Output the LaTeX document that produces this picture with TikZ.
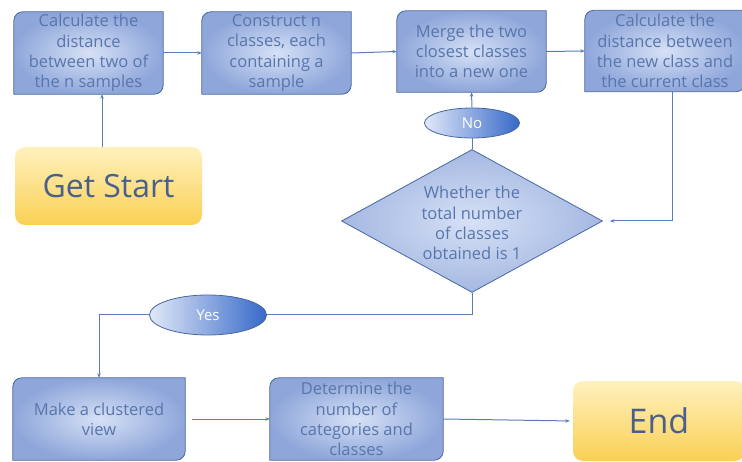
\documentclass[tikz,border=0pt]{standalone}
\usepackage{fontspec}
\setmainfont{Open Sans}
\usetikzlibrary{shapes.geometric,arrows.meta,backgrounds,calc}
\definecolor{txt}{RGB}{88,118,172}
\definecolor{edge}{RGB}{72,102,160}
\definecolor{bl1}{RGB}{214,225,246}
\definecolor{bl2}{RGB}{142,166,218}
\definecolor{ln}{RGB}{90,125,180}
\definecolor{ya}{RGB}{255,241,190}
\definecolor{yb}{RGB}{250,208,84}
\definecolor{gtxt}{RGB}{75,95,140}
\definecolor{ovl}{RGB}{225,232,248}
\definecolor{ovr}{RGB}{55,105,200}
\newcommand\dbox[2][9]{%
  \shadedraw[inner color=bl1, outer color=bl2, draw=edge, line width=0.8pt]
  (#2.south west) -- ([yshift=-#1pt]#2.north west)
  arc[start angle=180,end angle=90,radius=#1pt] -- (#2.north east)
  -- ([yshift=#1pt]#2.south east)
  arc[start angle=0,end angle=-90,radius=#1pt] -- cycle;}
\tikzset{
  x=1pt,y=1pt,
  boxtext/.style={text=txt, align=center, inner sep=0pt, font=\fontsize{16.5}{20.3}\selectfont},
  term/.style={text=gtxt, rounded corners=10pt, top color=ya, bottom color=yb, inner sep=0pt},
  oval/.style={ellipse, draw=edge, line width=0.8pt, left color=ovl, right color=ovr, text=white, inner sep=0pt, font=\fontsize{15}{16}\selectfont},
  decide/.style={diamond, draw=edge, line width=0.8pt, inner color=bl1, outer color=bl2!80!white, inner sep=0pt},
  arr/.style={draw=ln, line width=1pt, -{Stealth[length=4.5pt,width=3.5pt]}},
  con/.style={draw=ln, line width=1pt},
}
\begin{document}
\begin{tikzpicture}
\useasboundingbox (0,0) rectangle (742,461);
\node[boxtext, minimum width=149pt, minimum height=82pt] (b1) at (88.5,408) {Calculate the\\distance\\between two of\\the n samples};
\node[boxtext, minimum width=149pt, minimum height=82pt] (b2) at (276.5,408) {Construct n\\classes, each\\containing a\\sample};
\node[boxtext, minimum width=149pt, minimum height=81pt] (b3) at (471.5,409.5) {Merge the two\\closest classes\\into a new one};
\node[boxtext, minimum width=160pt, minimum height=81pt] (b4) at (665,410) {Calculate the\\distance between\\the new class and\\the current class};
\node[boxtext, minimum width=172pt, minimum height=82pt] (b5) at (99,42) {Make a clustered\\view};
\node[boxtext, minimum width=173pt, minimum height=82pt] (b6) at (356.5,42) {Determine the\\number of\\categories and\\classes};
\node[term, minimum width=187pt, minimum height=78pt, font=\fontsize{32}{36}\selectfont] (start) at (108.5,275) {Get Start};
\node[term, minimum width=172pt, minimum height=80pt, font=\fontsize{34}{38}\selectfont] (end) at (659,40) {End};
\node[decide, minimum width=261pt, minimum height=143pt, aspect=1.83] (dec) at (472,240) {};
\node[text=txt, align=center, font=\fontsize{16.5}{20.3}\selectfont] (dectext) at (472,238) {Whether the\\total number\\of classes\\obtained is 1};
\node[oval, minimum width=95pt, minimum height=30pt] (no) at (472,338) {No};
\node[oval, minimum width=117pt, minimum height=40pt] (yes) at (208,146) {Yes};
\begin{scope}[on background layer]
  \dbox{b1}\dbox{b2}\dbox{b3}\dbox{b4}\dbox{b5}\dbox{b6}
\end{scope}
\draw[arr] ([xshift=-6.5pt]start.north) -- ([xshift=13.5pt]b1.south);
\draw[arr] (b1.east) -- (b2.west);
\draw[arr] (b2.east) -- (b3.west);
\draw[arr] (b3.east) -- (b4.west);
\draw[arr, shorten >=7pt] ([xshift=7pt]b4.south) |- (dec.east);
\draw[con] (dec.north) -- (no.south);
\draw[arr] (no.north) -- (b3.south);
\draw[con] (dec.south) |- (yes.east);
\draw[arr] (yes.west) -| (b5.north);
\draw[arr, shorten <=7pt] (b5.east) -- (b6.west);
\draw[arr, shorten >=3pt] (b6.east) -- (end.west);
\end{tikzpicture}
\end{document}
